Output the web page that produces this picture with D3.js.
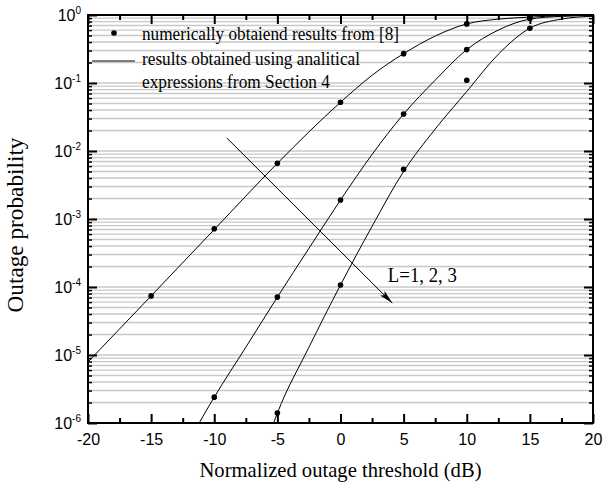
<!DOCTYPE html>
<html>
<head>
<meta charset="utf-8">
<script src="https://cdn.jsdelivr.net/npm/d3@7"></script>
<style>
  body { margin: 0; background: #fff; }
  svg { display: block; }
</style>
</head>
<body>
<div class="outage_chart"></div>
<script>
// analytical curves (threshold in dB, outage probability)
var curveX1 = [-20, -15, -10, -5, 0, 2.5, 5, 7.5, 10, 12.5, 15, 17.5, 20];
var curveL1 = [7.9e-6, 7.4e-5, 7.0e-4, 6.6e-3, 5.2e-2, 0.13, 0.27, 0.49, 0.74, 0.87, 0.93, 0.975, 0.99];

var curveX2 = [-11.2, -10, -7.5, -5, -2.5, 0, 2.5, 5, 7.5, 10, 12.5, 15, 17.5, 20];
var curveL2 = [1e-6, 2.4e-6, 1.3e-5, 7.1e-5, 3.7e-4, 1.9e-3, 8.9e-3, 0.035, 0.11, 0.31, 0.6, 0.87, 0.955, 0.98];

var curveX3 = [-5.3, -5, -2.5, 0, 2.5, 5, 7.5, 10, 12.5, 15, 17.5, 20];
var curveL3 = [1e-6, 1.4e-6, 1.3e-5, 1.07e-4, 7.8e-4, 5.0e-3, 0.021, 0.075, 0.265, 0.64, 0.87, 0.96];

// numerically obtained points
var simX1 = [-15, -10, -5, 0, 5, 10, 15];
var simL1 = [7.4e-5, 7.2e-4, 6.6e-3, 5.2e-2, 0.27, 0.74, 0.925];
var simX2 = [-10, -5, 0, 5, 10, 15];
var simL2 = [2.4e-6, 7.1e-5, 1.9e-3, 0.035, 0.31, 0.89];
var simX3 = [-5, 0, 5, 10, 15];
var simL3 = [1.4e-6, 1.07e-4, 5.4e-3, 0.11, 0.64];

var xTicks = [-20, -15, -10, -5, 0, 5, 10, 15, 20];
var xMinor = [-17.5, -12.5, -7.5, -2.5, 2.5, 7.5, 12.5, 17.5];
var yDecades = [-6, -5, -4, -3, -2, -1, 0];

// arrow annotation (data coords)
var arrowFrom = [-9.0, 0.0155];
var arrowTo = [4.1, 5.8e-5];
var arrowLabelAt = [3.75, 1.2e-4];

var legendItems = [
    "numerically obtaiend results from [8]",
    "results obtained using analitical",
    "expressions from Section 4"
];

var serif = "'Liberation Serif', 'Times New Roman', serif";
var sans = "'Liberation Sans', Arial, sans-serif";

var W = 605, H = 485;
var margin = { left: 88, top: 15, right: 12, bottom: 62 };
var pw = W - margin.left - margin.right;
var ph = H - margin.top - margin.bottom;

var svg = d3.select(".outage_chart").append("svg")
    .attr("width", W)
    .attr("height", H);

var x = d3.scaleLinear().domain([-20, 20]).range([margin.left, margin.left + pw]);
var y = d3.scaleLog().domain([1e-6, 1]).range([margin.top + ph, margin.top]);

// grey grid lines at every log tick
var gridVals = [];
for (var d = -6; d < 0; d++) {
    for (var m = 1; m <= 9; m++) {
        if (d == -6 && m == 1) continue;
        gridVals.push(m * Math.pow(10, d));
    }
}
svg.append("g").selectAll("line").data(gridVals).enter().append("line")
    .attr("x1", margin.left).attr("x2", margin.left + pw)
    .attr("y1", function (v) { return y(v); })
    .attr("y2", function (v) { return y(v); })
    .attr("stroke", "#c8c8c8")
    .attr("stroke-width", 1.4);

svg.append("defs").append("clipPath").attr("id", "plotclip")
    .append("rect")
    .attr("x", margin.left).attr("y", margin.top)
    .attr("width", pw).attr("height", ph);

var line = d3.line()
    .x(function (p) { return x(p[0]); })
    .y(function (p) { return y(p[1]); })
    .curve(d3.curveMonotoneX);

var curves = [[curveX1, curveL1], [curveX2, curveL2], [curveX3, curveL3]];
var plot = svg.append("g").attr("clip-path", "url(#plotclip)");
curves.forEach(function (c) {
    plot.append("path")
        .datum(d3.zip(c[0], c[1]))
        .attr("d", line)
        .attr("fill", "none")
        .attr("stroke", "#000")
        .attr("stroke-width", 1);
});

var sims = [[simX1, simL1], [simX2, simL2], [simX3, simL3]];
sims.forEach(function (s) {
    svg.append("g").selectAll("circle").data(d3.zip(s[0], s[1])).enter().append("circle")
        .attr("cx", function (p) { return x(p[0]); })
        .attr("cy", function (p) { return y(p[1]); })
        .attr("r", 2.8)
        .attr("fill", "#000");
});

// axes: inward ticks on all four sides
var bottom = margin.top + ph, right = margin.left + pw;

var xAxis = d3.axisBottom(x).tickValues(xTicks).tickSizeInner(-9).tickSizeOuter(0).tickPadding(10.5)
    .tickFormat(d3.format("d"));
var gx = svg.append("g").attr("transform", "translate(0," + bottom + ")").call(xAxis);
gx.select(".domain").remove();
gx.selectAll("line").attr("stroke-width", 2);
gx.selectAll("text").style("font-family", sans).style("font-size", "16px").attr("fill", "#000")
    .text(function (v) { return v < 0 ? "-" + Math.abs(v) : v; });

var gxm = svg.append("g").attr("transform", "translate(0," + bottom + ")")
    .call(d3.axisBottom(x).tickValues(xMinor).tickSizeInner(-5).tickSizeOuter(0).tickFormat(""));
gxm.select(".domain").remove();
gxm.selectAll("line").attr("stroke-width", 2);

var gxt = svg.append("g").attr("transform", "translate(0," + margin.top + ")")
    .call(d3.axisTop(x).tickValues(xTicks).tickSizeInner(-9).tickSizeOuter(0).tickFormat(""));
gxt.select(".domain").remove();
gxt.selectAll("line").attr("stroke-width", 2);
var gxtm = svg.append("g").attr("transform", "translate(0," + margin.top + ")")
    .call(d3.axisTop(x).tickValues(xMinor).tickSizeInner(-5).tickSizeOuter(0).tickFormat(""));
gxtm.select(".domain").remove();
gxtm.selectAll("line").attr("stroke-width", 2);

var majorY = yDecades.map(function (d) { return Math.pow(10, d); });
var minorY = gridVals.filter(function (v) { return majorY.indexOf(v) < 0; });

[[d3.axisLeft, margin.left], [d3.axisRight, right]].forEach(function (a) {
    var g1 = svg.append("g").attr("transform", "translate(" + a[1] + ",0)")
        .call(a[0](y).tickValues(majorY).tickSizeInner(-9).tickSizeOuter(0).tickFormat(""));
    g1.select(".domain").remove();
    g1.selectAll("line").attr("stroke-width", 2);
    var g2 = svg.append("g").attr("transform", "translate(" + a[1] + ",0)")
        .call(a[0](y).tickValues(minorY).tickSizeInner(-4).tickSizeOuter(0).tickFormat(""));
    g2.select(".domain").remove();
    g2.selectAll("line").attr("stroke-width", 1.5);
});

// 10^n labels
var ylab = svg.append("g").selectAll("text").data(yDecades).enter().append("text")
    .attr("x", margin.left - 7)
    .attr("y", function (d) { return y(Math.pow(10, d)) + 6; })
    .attr("text-anchor", "end")
    .style("font-family", sans)
    .attr("fill", "#000");
ylab.append("tspan").style("font-size", "16px").text("10");
ylab.append("tspan").style("font-size", "10px").attr("dy", -7).text(function (d) { return d; });

// frame
svg.append("rect")
    .attr("x", margin.left).attr("y", margin.top)
    .attr("width", pw).attr("height", ph)
    .attr("fill", "none")
    .attr("stroke", "#000")
    .attr("stroke-width", 2);

// arrow
svg.append("defs").append("marker")
    .attr("id", "arrowhead")
    .attr("viewBox", "0 0 14 8")
    .attr("refX", 14).attr("refY", 4)
    .attr("markerWidth", 14).attr("markerHeight", 8)
    .attr("markerUnits", "userSpaceOnUse")
    .attr("orient", "auto")
    .append("path").attr("d", "M0,0.8 L14,4 L0,7.2 L3,4 Z").attr("fill", "#000");

svg.append("line")
    .attr("x1", x(arrowFrom[0])).attr("y1", y(arrowFrom[1]))
    .attr("x2", x(arrowTo[0])).attr("y2", y(arrowTo[1]))
    .attr("stroke", "#000").attr("stroke-width", 1)
    .attr("marker-end", "url(#arrowhead)");

svg.append("text")
    .attr("x", x(arrowLabelAt[0])).attr("y", y(arrowLabelAt[1]))
    .attr("textLength", 69).attr("lengthAdjust", "spacingAndGlyphs")
    .style("font-family", serif).style("font-size", "20px")
    .attr("fill", "#000")
    .text("L=1, 2, 3");

// legend
var legendY = [39.5, 65, 88];
var legendW = [257, 218, 188];
svg.append("circle").attr("cx", 114).attr("cy", 33).attr("r", 2.8).attr("fill", "#000");
svg.append("line").attr("x1", 92).attr("x2", 135).attr("y1", 61).attr("y2", 61)
    .attr("stroke", "#000").attr("stroke-width", 1);
svg.append("g").selectAll("text").data(legendItems).enter().append("text")
    .attr("x", 142)
    .attr("y", function (t, i) { return legendY[i]; })
    .attr("textLength", function (t, i) { return legendW[i]; })
    .attr("lengthAdjust", "spacingAndGlyphs")
    .style("font-family", serif).style("font-size", "18.5px")
    .attr("fill", "#000")
    .text(function (t) { return t; });

// axis titles
svg.append("text")
    .attr("x", margin.left + pw / 2).attr("y", 476.5)
    .attr("text-anchor", "middle")
    .attr("textLength", 282).attr("lengthAdjust", "spacingAndGlyphs")
    .style("font-family", serif).style("font-size", "22px")
    .attr("fill", "#000")
    .text("Normalized outage threshold (dB)");

svg.append("text")
    .attr("transform", "translate(23,225) rotate(-90)")
    .attr("text-anchor", "middle")
    .attr("textLength", 175).attr("lengthAdjust", "spacingAndGlyphs")
    .style("font-family", serif).style("font-size", "23px")
    .attr("fill", "#000")
    .text("Outage probability");
</script>
</body>
</html>
